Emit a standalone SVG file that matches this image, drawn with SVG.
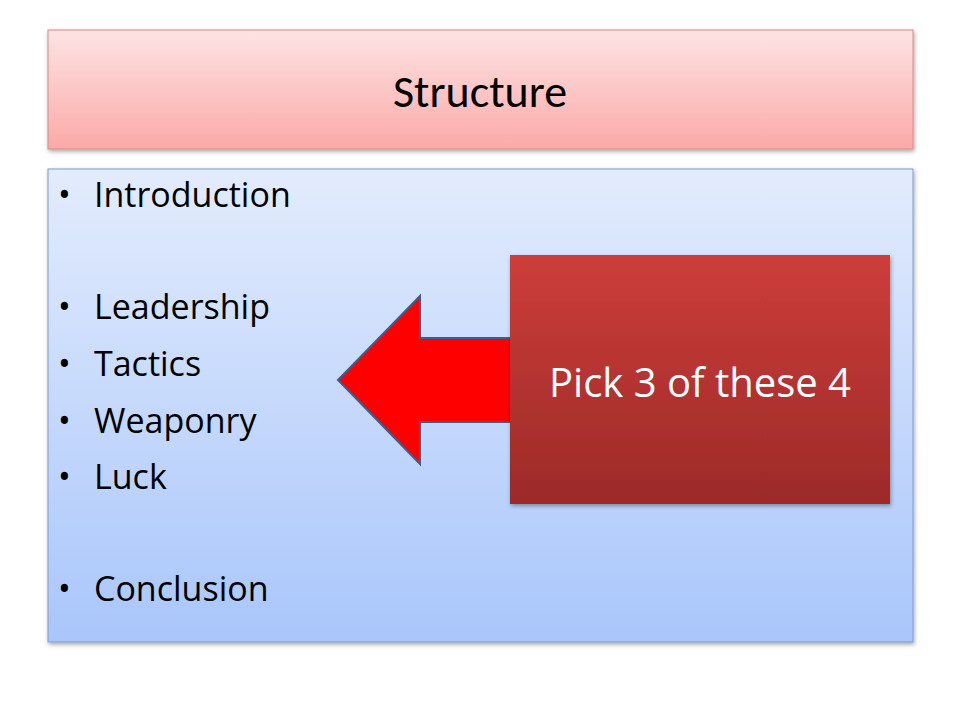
<svg xmlns="http://www.w3.org/2000/svg" width="960" height="720" viewBox="0 0 960 720">
<defs>
<linearGradient id="gt" x1="0" y1="0" x2="0" y2="1"><stop offset="0" stop-color="#fde4e4"/><stop offset="1" stop-color="#fbaaa8"/></linearGradient>
<linearGradient id="gb" x1="0" y1="0" x2="0" y2="1"><stop offset="0" stop-color="#e3ecfd"/><stop offset="1" stop-color="#a9c6fb"/></linearGradient>
<linearGradient id="gr" x1="0" y1="0" x2="0" y2="1"><stop offset="0" stop-color="#cd3d3a"/><stop offset="1" stop-color="#9c2a28"/></linearGradient>
<filter id="sh"><feDropShadow dx="1" dy="2" stdDeviation="2" flood-opacity="0.35"/></filter>
<style>.t{font-family:"Open Sans","Liberation Sans",sans-serif;font-size:34px;fill:#000}</style>
</defs>
<rect width="960" height="720" fill="#fff"/>
<g id="title"><rect x="48" y="30" width="865" height="119" fill="url(#gt)" stroke="#d98886" stroke-width="1" filter="url(#sh)"/>
<text x="480" y="107" text-anchor="middle" font-family="Calibri,'Open Sans','Liberation Sans',sans-serif" font-size="46">Structure</text></g>
<g id="body"><rect x="48" y="169" width="865" height="473" fill="url(#gb)" stroke="#7a9ad4" stroke-width="1" filter="url(#sh)"/>
<g class="t">
<text x="58" y="207">•</text><text x="94" y="207">Introduction</text>
<text x="58" y="319">•</text><text x="94" y="319">Leadership</text>
<text x="58" y="376">•</text><text x="94" y="376">Tactics</text>
<text x="58" y="433">•</text><text x="94" y="433">Weaponry</text>
<text x="58" y="489">•</text><text x="94" y="489">Luck</text>
<text x="58" y="601">•</text><text x="94" y="601">Conclusion</text>
</g></g>
<g id="connectors"><polygon points="338,380 420,296 420,338 520,338 520,422 420,422 420,464" fill="#ff0000" stroke="#3f5c8c" stroke-width="2"/></g>
<g id="pick"><rect x="510" y="255" width="380" height="249" fill="url(#gr)" filter="url(#sh)"/>
<text x="700" y="397" text-anchor="middle" font-family="'Open Sans','Liberation Sans',sans-serif" font-size="40" fill="#fff">Pick 3 of these 4</text></g>
</svg>
